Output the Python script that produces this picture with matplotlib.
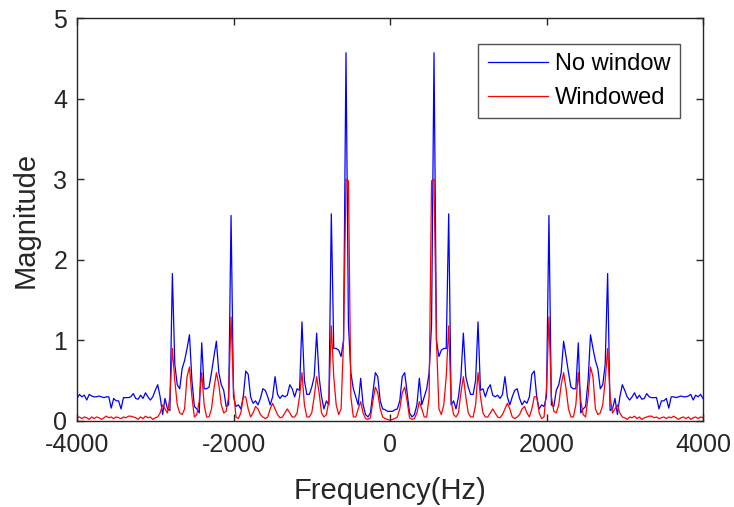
#!/usr/bin/env python
import numpy as np
import matplotlib
matplotlib.use("Agg")
import matplotlib.pyplot as plt

# magnitude for 0..4000 Hz, step 31.25 Hz (129 bins)
# spectrum of a real signal, so the negative side mirrors these values
noWindowHalf = [
    0.12, 0.12, 0.14, 0.15, 0.25, 0.55, 0.60, 0.35, 0.10, 0.05,
    0.08, 0.20, 0.53, 0.20, 0.30, 0.40, 0.60, 1.20, 4.57, 1.00,
    0.80, 0.88, 0.90, 0.90, 2.57, 0.20, 0.25, 0.15, 0.30, 0.55,
    1.09, 0.55, 0.42, 0.33, 0.33, 0.50, 1.23, 0.38, 0.40, 0.30,
    0.40, 0.45, 0.32, 0.30, 0.32, 0.28, 0.33, 0.55, 0.30, 0.20,
    0.30, 0.38, 0.40, 0.28, 0.20, 0.25, 0.22, 0.30, 0.58, 0.62,
    0.30, 0.15, 0.20, 0.18, 0.30, 2.55, 0.20, 0.18, 0.38, 0.45,
    0.60, 0.99, 0.80, 0.60, 0.42, 0.40, 0.40, 0.97, 0.10, 0.15,
    0.18, 0.50, 1.07, 0.90, 0.75, 0.65, 0.40, 0.45, 0.70, 1.83,
    0.13, 0.15, 0.28, 0.08, 0.30, 0.45, 0.38, 0.30, 0.26, 0.30,
    0.35, 0.28, 0.32, 0.27, 0.28, 0.34, 0.30, 0.29, 0.29, 0.29,
    0.15, 0.25, 0.25, 0.28, 0.16, 0.30, 0.30, 0.29, 0.30, 0.31,
    0.30, 0.30, 0.31, 0.33, 0.26, 0.32, 0.30, 0.33, 0.28]
windowedHalf = [
    0.01, 0.02, 0.03, 0.05, 0.15, 0.35, 0.42, 0.25, 0.04, 0.02,
    0.03, 0.10, 0.24, 0.15, 0.05, 0.05, 0.30, 2.98, 3.00, 1.00,
    0.15, 0.08, 0.20, 0.55, 1.18, 0.25, 0.08, 0.05, 0.10, 0.35,
    0.55, 0.30, 0.10, 0.05, 0.05, 0.20, 0.60, 0.30, 0.10, 0.05,
    0.05, 0.10, 0.15, 0.10, 0.05, 0.04, 0.08, 0.15, 0.22, 0.15,
    0.05, 0.03, 0.05, 0.08, 0.15, 0.18, 0.10, 0.05, 0.15, 0.30,
    0.30, 0.10, 0.03, 0.05, 0.40, 1.29, 0.30, 0.12, 0.10, 0.20,
    0.45, 0.60, 0.40, 0.15, 0.05, 0.05, 0.20, 0.60, 0.25, 0.08,
    0.05, 0.30, 0.67, 0.55, 0.15, 0.08, 0.10, 0.20, 0.50, 0.90,
    0.30, 0.10, 0.15, 0.20, 0.10, 0.05, 0.04, 0.02, 0.05, 0.04,
    0.06, 0.03, 0.05, 0.02, 0.04, 0.05, 0.06, 0.06, 0.04, 0.05,
    0.03, 0.04, 0.05, 0.03, 0.05, 0.04, 0.06, 0.04, 0.02, 0.04,
    0.05, 0.03, 0.05, 0.02, 0.04, 0.05, 0.03, 0.05, 0.04]

xTicks = [-4000, -2000, 0, 2000, 4000]
yTicks = [0, 1, 2, 3, 4, 5]

noWindow = noWindowHalf[:0:-1] + noWindowHalf
windowed = windowedHalf[:0:-1] + windowedHalf
freq = np.arange(-(len(noWindowHalf) - 1), len(noWindowHalf)) * 31.25

plt.rcParams['font.family'] = ['Liberation Sans', 'DejaVu Sans']
txt = '#262626'

fig = plt.figure(figsize=(7.34, 5.07), dpi=100)
ax = fig.add_axes([77/734.0, 86/507.0, 626/734.0, 403/507.0])
ax.plot(freq, noWindow, color='#0000ff', lw=0.9, label='No window')
ax.plot(freq, windowed, color='#ff0000', lw=0.9, label='Windowed')

ax.set_xlim(-4000, 4000)
ax.set_ylim(0, 5)
ax.set_xticks(xTicks)
ax.set_xticklabels([str(t) for t in xTicks])
ax.set_yticks(yTicks)
ax.tick_params(direction='in', length=5, width=1.0, top=True, right=True,
               labelsize=18, colors=txt)
ax.tick_params(axis='x', pad=9)
ax.tick_params(axis='y', pad=7)
for s in ax.spines.values():
    s.set_color(txt)
    s.set_linewidth(1.0)
ax.set_xlabel('Frequency(Hz)', fontsize=21, color=txt, labelpad=14)
ax.set_ylabel('Magnitude', fontsize=21, color=txt, labelpad=10)

leg = ax.legend(loc='upper right', bbox_to_anchor=(0.963, 0.9355), fontsize=17,
                frameon=True, fancybox=False, handlelength=2.55,
                handletextpad=0.3, borderpad=0.4, labelspacing=0.48,
                borderaxespad=0)
leg.get_frame().set_edgecolor(txt)
leg.get_frame().set_linewidth(1.0)

fig.savefig('out.png', dpi=100)
